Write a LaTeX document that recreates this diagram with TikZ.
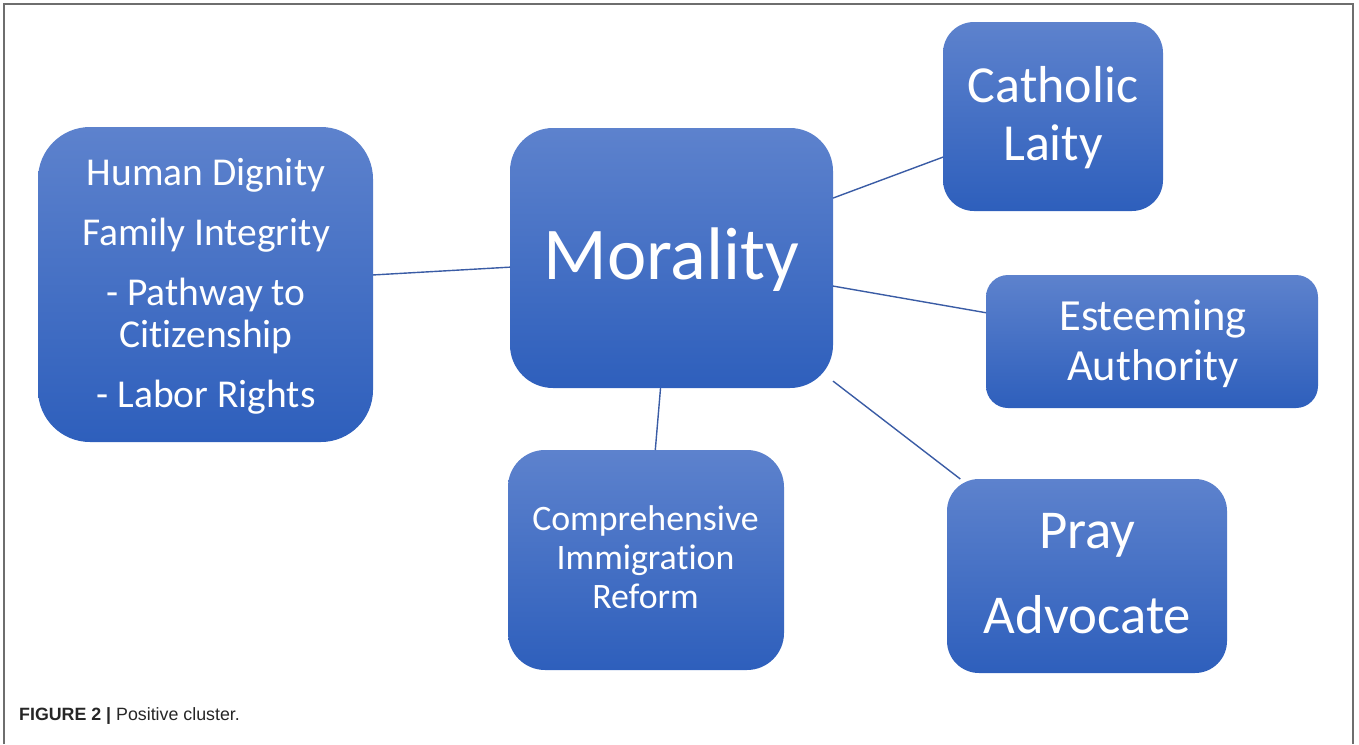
\documentclass[tikz,border=0pt]{standalone}
\usepackage{fontspec}
\setmainfont{Carlito}[Ligatures=NoCommon]
\newfontfamily\capfont{Liberation Sans}
\definecolor{boxtop}{RGB}{93,130,205}
\definecolor{boxbot}{RGB}{46,95,188}
\definecolor{linkblue}{RGB}{58,92,165}
\definecolor{framegray}{RGB}{110,110,110}
\begin{document}
\begin{tikzpicture}[x=1pt,y=-1pt,
  box/.style={draw=none, top color=boxtop, bottom color=boxbot, inner sep=0pt, outer sep=0pt},
  txt/.style={text=white, align=center, inner sep=0pt, anchor=base},
  link/.style={draw=linkblue, line width=1.4pt}]
\useasboundingbox (0,0) rectangle (1359,744);
\draw[framegray, line width=1.6pt] (4,744) -- (4,4) -- (1353,4) -- (1353,744);
% boxes
\node[box, rounded corners=52pt, minimum width=335pt, minimum height=315pt] (lb) at (205.5,284.5) {};
\node[box, rounded corners=43pt, minimum width=323pt, minimum height=260pt] (mo) at (671.5,258) {};
\node[box, rounded corners=31pt, minimum width=220pt, minimum height=189pt] (cl) at (1053,116.5) {};
\node[box, rounded corners=22pt, minimum width=332pt, minimum height=133pt] (ea) at (1152,341.5) {};
\node[box, rounded corners=37pt, minimum width=276pt, minimum height=220pt] (ci) at (646,560) {};
\node[box, rounded corners=32pt, minimum width=280pt, minimum height=194pt] (pa) at (1087,576) {};
% connectors
\draw[link] (lb) -- (mo);
\draw[link] (mo) -- (cl);
\draw[link] (mo) -- (ea);
\draw[link] (mo) -- (pa);
\draw[link] (mo) -- (ci);
% texts (anchored at the baseline of the last line)
\node[txt, font={\fontsize{74.5}{80}\selectfont}] (moT) at (671.5,279) {Morality};
\node[txt, font={\fontsize{52}{58}\selectfont}] (clT) at (1053,160) {Catholic\\Laity};
\node[txt, font={\fontsize{44.5}{50}\selectfont}] (eaT) at (1153,380) {Esteeming\\Authority};
\node[txt, font={\fontsize{54.8}{85}\selectfont}] (paT) at (1087.5,633) {Pray\\Advocate};
\node[txt, font={\fontsize{35.8}{39}\selectfont}] (ciT) at (645.5,608) {Comprehensive\\Immigration\\Reform};
\node[txt, font={\fontsize{39.5}{42}\selectfont}] (lbT) at (206,407) {Human Dignity\\[18pt]Family Integrity\\[18pt]- Pathway to\\Citizenship\\[18pt]- Labor Rights};
% caption
\node[anchor=base west, inner sep=0pt, font={\capfont\fontsize{17.8}{21}\selectfont}, text=black!85] (cap) at (19,720) {\textbf{FIGURE 2 |} Positive cluster.};
\end{tikzpicture}
\end{document}
